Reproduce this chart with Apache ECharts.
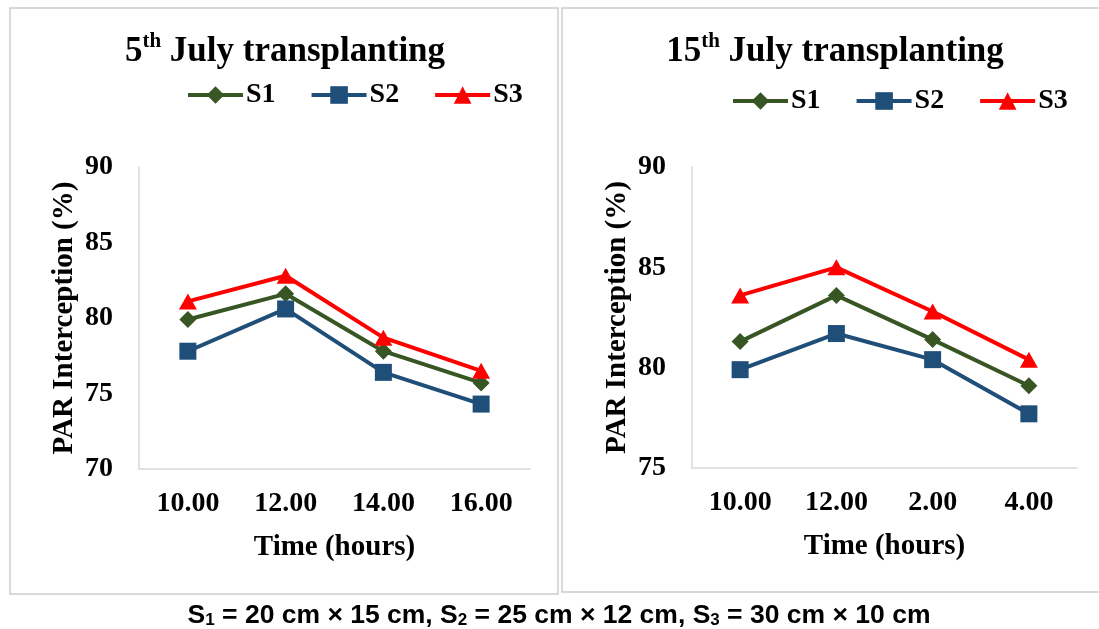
<!DOCTYPE html>
<html>
<head>
<meta charset="utf-8">
<script src="https://cdn.jsdelivr.net/npm/echarts@6/dist/echarts.min.js"></script>
<style>
  html, body { margin: 0; padding: 0; background: #fff; }
  #main { width: 1099px; height: 629px; }
</style>
</head>
<body>
<div id="main"></div>
<script>
// data
var timesA = ['10.00', '12.00', '14.00', '16.00'];
var timesB = ['10.00', '12.00', '2.00', '4.00'];
var s1A = [79.9, 81.6, 77.8, 75.7];
var s2A = [77.8, 80.6, 76.4, 74.3];
var s3A = [81.1, 82.8, 78.7, 76.5];
var s1B = [81.3, 83.6, 81.4, 79.1];
var s2B = [79.9, 81.7, 80.4, 77.7];
var s3B = [83.6, 85.0, 82.8, 80.4];
var yTicksA = [70, 75, 80, 85, 90];
var yTicksB = [75, 80, 85, 90];

var serif = '"Liberation Serif", "Times New Roman", serif';
var sans = '"Liberation Sans", Arial, sans-serif';
var axisGrey = '#d9d9d9';
var c1 = '#375623', c2 = '#1f4e79', c3 = '#ff0000';

function xAxisOf(idx, cats) {
  return {
    type: 'category',
    gridIndex: idx,
    data: cats,
    boundaryGap: true,
    axisTick: { show: false },
    axisLine: { lineStyle: { color: axisGrey, width: 1.5 } },
    axisLabel: { color: '#000', fontFamily: serif, fontWeight: 'bold', fontSize: 28, margin: 21 },
    name: 'Time (hours)',
    nameLocation: 'middle',
    nameGap: 64,
    nameTextStyle: { color: '#000', fontFamily: serif, fontWeight: 'bold', fontSize: 29 },
    splitLine: { show: false }
  };
}
function yAxisOf(idx, ticks) {
  return {
    type: 'value',
    gridIndex: idx,
    min: ticks[0],
    max: ticks[ticks.length - 1],
    interval: 5,
    axisTick: { show: false },
    axisLine: { show: true, lineStyle: { color: axisGrey, width: 1.5 } },
    axisLabel: { color: '#000', fontFamily: serif, fontWeight: 'bold', fontSize: 28, margin: 26 },
    name: 'PAR Interception (%)',
    nameLocation: 'middle',
    nameGap: 60,
    nameTextStyle: { color: '#000', fontFamily: serif, fontWeight: 'bold', fontSize: 29 },
    splitLine: { show: false }
  };
}
function lineOf(name, idx, data, color, symbol, size) {
  return {
    name: name,
    type: 'line',
    xAxisIndex: idx,
    yAxisIndex: idx,
    data: data,
    symbol: symbol,
    symbolSize: size,
    showSymbol: true,
    lineStyle: { color: color, width: 4 },
    itemStyle: { color: color },
    emphasis: { disabled: true }
  };
}
function legendOf(left, top) {
  return {
    left: left,
    top: top,
    data: ['S1', 'S2', 'S3'],
    itemWidth: 55,
    itemHeight: 22,
    itemGap: 34,
    selectedMode: false,
    lineStyle: { width: 4 },
    textStyle: { color: '#000', fontFamily: serif, fontWeight: 'bold', fontSize: 28, padding: [0, 0, 0, -2] }
  };
}
function titleText(x, num) {
  return {
    type: 'text',
    x: x,
    y: 50,
    style: {
      text: '{a|' + num + '}{b|th}{a| July transplanting}',
      align: 'center',
      verticalAlign: 'middle',
      rich: {
        a: { fontFamily: serif, fontWeight: 'bold', fontSize: 35, lineHeight: 38, fill: '#000', verticalAlign: 'bottom' },
        b: { fontFamily: serif, fontWeight: 'bold', fontSize: 21, lineHeight: 26, fill: '#000', verticalAlign: 'top' }
      }
    }
  };
}

var option = {
  animation: false,
  backgroundColor: '#fff',
  grid: [
    { left: 139, top: 167, width: 391, height: 302 },
    { left: 692, top: 167, width: 385, height: 301 }
  ],
  xAxis: [xAxisOf(0, timesA), xAxisOf(1, timesB)],
  yAxis: [yAxisOf(0, yTicksA), yAxisOf(1, yTicksB)],
  legend: [legendOf(181, 76), legendOf(726, 82)],
  series: [
    lineOf('S1', 0, s1A, c1, 'diamond', 17),
    lineOf('S2', 0, s2A, c2, 'rect', 17),
    lineOf('S3', 0, s3A, c3, 'triangle', [18, 16]),
    lineOf('S1', 1, s1B, c1, 'diamond', 17),
    lineOf('S2', 1, s2B, c2, 'rect', 17),
    lineOf('S3', 1, s3B, c3, 'triangle', [18, 16])
  ],
  graphic: [
    { type: 'rect', shape: { x: 10, y: 8, width: 548, height: 586 }, style: { fill: 'none', stroke: axisGrey, lineWidth: 2 }, z: -1 },
    { type: 'rect', shape: { x: 562, y: 8, width: 560, height: 584 }, style: { fill: 'none', stroke: axisGrey, lineWidth: 2 }, z: -1 },
    titleText(285, '5'),
    titleText(835, '15'),
    {
      type: 'text',
      x: 559,
      y: 615,
      style: {
        text: '{m|S}{s|1}{m| = 20 cm × 15 cm, S}{s|2}{m| = 25 cm × 12 cm, S}{s|3}{m| = 30 cm × 10 cm}',
        align: 'center',
        verticalAlign: 'middle',
        rich: {
          m: { fontFamily: sans, fontWeight: 'bold', fontSize: 26.5, lineHeight: 28, fill: '#000', verticalAlign: 'bottom' },
          s: { fontFamily: sans, fontWeight: 'bold', fontSize: 17, lineHeight: 22, fill: '#000', verticalAlign: 'bottom' }
        }
      }
    }
  ]
};

var myChart = echarts.init(document.getElementById('main'));
myChart.setOption(option);
</script>
</body>
</html>
